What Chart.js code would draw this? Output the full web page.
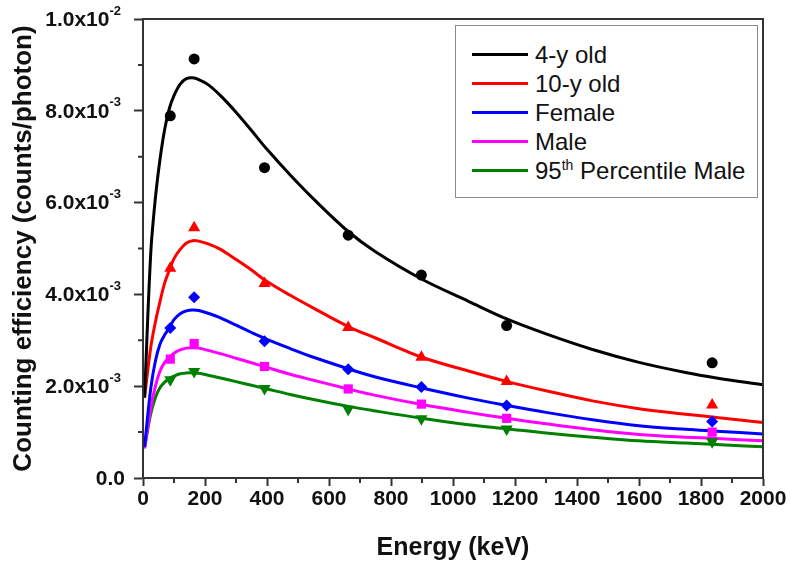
<!DOCTYPE html>
<html lang="en">
<head>
  <meta charset="UTF-8">
  <title>Counting efficiency vs energy</title>
  <script src="https://cdn.jsdelivr.net/npm/chart.js"></script>
  <style>
    body {
      margin: 0;
      background: #fff;
      font-family: "Liberation Sans", Arial, sans-serif;
    }

    .chart-container {
      position: relative;
      width: 790px;
      height: 563px;
    }

    #legend {
      position: absolute;
      left: 455px;
      top: 25px;
      width: 303px;
      height: 173px;
      border: 1.5px solid #8a8a8a;
      background: #fff;
      padding-top: 14px;
      box-sizing: border-box;
    }

    .row {
      display: flex;
      align-items: center;
      height: 29px;
      font-size: 24px;
      color: #111;
    }

    .row .swatch {
      width: 56px;
      height: 3px;
      margin-left: 16px;
      margin-right: 7px;
    }

    .row sup {
      font-size: 14px;
      vertical-align: 9px;
      line-height: 0;
    }
  </style>
</head>
<body>

<div class="chart-container">
  <canvas id="effChart" width="790" height="563"></canvas>
  <div id="legend"></div>
</div>

<script>
  // fitted curves (counting efficiency in units of 1e-3)
  const energyGrid = [5, 25, 40, 55, 70, 85, 100, 120, 140, 160, 180, 210, 250, 300, 350, 400, 475, 550, 662, 750, 900, 1050, 1175, 1300, 1450, 1600, 1750, 1850, 2000];
  const fit4y     = [1.75, 4.9, 6.1, 6.95, 7.6, 8.05, 8.33, 8.58, 8.70, 8.72, 8.68, 8.57, 8.33, 7.97, 7.57, 7.16, 6.60, 6.08, 5.37, 4.93, 4.33, 3.85, 3.46, 3.14, 2.80, 2.52, 2.30, 2.18, 2.03];
  const fit10y    = [1.75, 2.85, 3.4, 3.85, 4.25, 4.53, 4.78, 4.98, 5.12, 5.17, 5.16, 5.10, 4.98, 4.76, 4.53, 4.28, 3.98, 3.70, 3.30, 3.05, 2.63, 2.33, 2.10, 1.90, 1.68, 1.51, 1.39, 1.32, 1.21];
  const fitFemale = [0.68, 1.95, 2.55, 2.92, 3.12, 3.27, 3.45, 3.58, 3.64, 3.66, 3.65, 3.59, 3.49, 3.33, 3.17, 3.02, 2.82, 2.63, 2.38, 2.20, 1.96, 1.74, 1.58, 1.43, 1.27, 1.14, 1.06, 1.02, 0.96];
  const fitMale   = [0.65, 1.52, 2.0, 2.33, 2.52, 2.63, 2.72, 2.79, 2.83, 2.84, 2.83, 2.78, 2.71, 2.61, 2.51, 2.41, 2.26, 2.13, 1.94, 1.80, 1.60, 1.43, 1.30, 1.18, 1.05, 0.95, 0.89, 0.86, 0.81];
  const fitMale95 = [0.65, 1.40, 1.75, 1.97, 2.09, 2.17, 2.22, 2.27, 2.29, 2.29, 2.28, 2.24, 2.18, 2.10, 2.02, 1.94, 1.82, 1.71, 1.56, 1.46, 1.30, 1.16, 1.07, 0.98, 0.89, 0.81, 0.76, 0.73, 0.68];

  // measured points
  const measEnergy = [88, 165, 392, 662, 898, 1173, 1836];
  const pts4y      = [7.89, 9.13, 6.76, 5.29, 4.42, 3.32, 2.51];
  const pts10y     = [4.57, 5.45, 4.24, 3.28, 2.63, 2.10, 1.59];
  const ptsFemale  = [3.27, 3.94, 2.98, 2.37, 1.98, 1.58, 1.23];
  const ptsMale    = [2.59, 2.93, 2.43, 1.94, 1.61, 1.30, 1.00];
  const ptsMale95  = [2.14, 2.32, 1.95, 1.50, 1.29, 1.07, 0.79];

  // y tick labels: mantissa + exponent
  const yTickValues = [0, 2, 4, 6, 8, 10];
  const yTickBase   = ['0.0', '2.0x10', '4.0x10', '6.0x10', '8.0x10', '1.0x10'];
  const yTickExp    = ['', '-3', '-3', '-3', '-3', '-2'];

  const series = [
    { label: '4-y old',              color: '#000000', fit: fit4y,     pts: pts4y,     style: 'circle',   rot: 0,   r: 5.5 },
    { label: '10-y old',             color: '#ff0000', fit: fit10y,    pts: pts10y,    style: 'triangle', rot: 0,   r: 7 },
    { label: 'Female',               color: '#0000ff', fit: fitFemale, pts: ptsFemale, style: 'rectRot',  rot: 0,   r: 6 },
    { label: 'Male',                 color: '#ff00ff', fit: fitMale,   pts: ptsMale,   style: 'rect',     rot: 0,   r: 6.5 },
    { label: '95th Percentile Male', color: '#008000', fit: fitMale95, pts: ptsMale95, style: 'triangle', rot: 180, r: 7 }
  ];

  const datasets = [];
  series.forEach(s => {
    datasets.push({
      label: s.label,
      data: energyGrid.map((e, i) => ({ x: e, y: s.fit[i] })),
      showLine: true,
      borderColor: s.color,
      backgroundColor: s.color,
      borderWidth: 3,
      pointRadius: 0,
      tension: 0.35,
      order: 2,
      inLegend: true
    });
    datasets.push({
      label: s.label + ' (measured)',
      data: measEnergy.map((e, i) => ({ x: e, y: s.pts[i] })),
      showLine: false,
      pointStyle: s.style,
      rotation: s.rot,
      pointRadius: s.r,
      backgroundColor: s.color,
      borderColor: s.color,
      borderWidth: 0,
      order: 1
    });
  });

  const axisBits = {
    id: 'axisBits',
    afterDraw(chart) {
      const { ctx, chartArea: a, scales: { x, y } } = chart;
      ctx.save();
      ctx.strokeStyle = '#333';
      ctx.lineWidth = 2;
      ctx.strokeRect(a.left, a.top, a.right - a.left, a.bottom - a.top);

      // minor ticks
      ctx.beginPath();
      for (let v = 100; v < 2000; v += 200) {
        const px = x.getPixelForValue(v);
        ctx.moveTo(px, a.bottom);
        ctx.lineTo(px, a.bottom + 5);
      }
      for (let v = 1; v < 10; v += 2) {
        const py = y.getPixelForValue(v);
        ctx.moveTo(a.left, py);
        ctx.lineTo(a.left - 5, py);
      }
      ctx.stroke();

      // y labels with superscript exponent
      ctx.fillStyle = '#111';
      ctx.textBaseline = 'middle';
      yTickValues.forEach((v, i) => {
        const py = y.getPixelForValue(v);
        const base = yTickBase[i];
        const exp = yTickExp[i];
        ctx.font = 'bold 21px "Liberation Sans", Arial, sans-serif';
        const wb = ctx.measureText(base).width;
        ctx.font = 'bold 13px "Liberation Sans", Arial, sans-serif';
        const we = exp ? ctx.measureText(exp).width : 0;
        const right = exp ? 121 : 125;
        ctx.font = 'bold 21px "Liberation Sans", Arial, sans-serif';
        ctx.textAlign = 'left';
        ctx.fillText(base, right - we - wb, py + 1);
        if (exp) {
          ctx.font = 'bold 13px "Liberation Sans", Arial, sans-serif';
          ctx.fillText(exp, right - we, py - 8);
        }
      });
      ctx.restore();
    }
  };

  const chart = new Chart(document.getElementById('effChart'), {
    type: 'scatter',
    data: { datasets: datasets },
    options: {
      responsive: false,
      animation: false,
      layout: { padding: { left: 0, right: 27, top: 19, bottom: 0 } },
      scales: {
        x: {
          type: 'linear',
          min: 0,
          max: 2000,
          afterFit: s => { s.height = 85; },
          ticks: {
            stepSize: 200,
            padding: 1,
            color: '#111',
            font: { family: '"Liberation Sans", Arial, sans-serif', size: 21, weight: 'bold' },
            callback: v => String(v)
          },
          grid: { drawOnChartArea: false, tickLength: 8, tickWidth: 2, tickColor: '#333' },
          border: { color: '#333', width: 2 },
          title: {
            display: true,
            text: 'Energy (keV)',
            color: '#111',
            padding: { top: 0, bottom: 0 },
            font: { family: '"Liberation Sans", Arial, sans-serif', size: 25, weight: 'bold' }
          }
        },
        y: {
          min: 0,
          max: 10,
          afterFit: s => { s.width = 143; },
          ticks: { stepSize: 2, callback: () => '' },
          grid: { drawOnChartArea: false, tickLength: 9, tickWidth: 2, tickColor: '#333' },
          border: { color: '#333', width: 2 },
          title: {
            display: true,
            text: 'Counting efficiency (counts/photon)',
            color: '#111',
            padding: { top: 8, bottom: 0 },
            font: { family: '"Liberation Sans", Arial, sans-serif', size: 26, weight: 'bold' }
          }
        }
      },
      plugins: {
        legend: { display: false },
        tooltip: { enabled: false }
      }
    },
    plugins: [axisBits]
  });

  // html legend so the "th" can be a real superscript
  const legendEl = document.getElementById('legend');
  chart.data.datasets.filter(d => d.inLegend).forEach(d => {
    const row = document.createElement('div');
    row.className = 'row';
    const sw = document.createElement('span');
    sw.className = 'swatch';
    sw.style.background = d.borderColor;
    const txt = document.createElement('span');
    txt.innerHTML = d.label.replace(/(\d+)th/, '$1<sup>th</sup>');
    row.appendChild(sw);
    row.appendChild(txt);
    legendEl.appendChild(row);
  });
</script>

</body>
</html>
